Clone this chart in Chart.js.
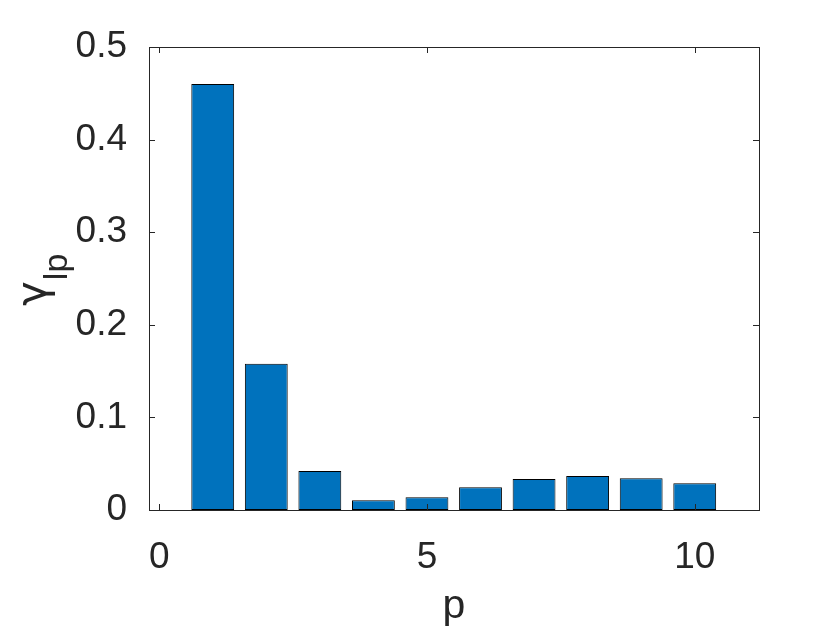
<!DOCTYPE html>
<html>
<head>
<meta charset="utf-8">
<script src="https://cdn.jsdelivr.net/npm/chart.js@4/dist/chart.umd.min.js"></script>
<style>
  html, body { margin: 0; padding: 0; background: #fff; }
  #wrap { width: 840px; height: 630px; }
</style>
</head>
<body>
<div id="wrap"><canvas id="myChart" width="840" height="630"></canvas></div>
<script>
// data
var pValues = [1, 2, 3, 4, 5, 6, 7, 8, 9, 10]
var gammaValues = [0.46, 0.158, 0.042, 0.0105, 0.0137, 0.0245, 0.0335, 0.0367, 0.0342, 0.029]
var xTicks = [0, 5, 10]
var yTicks = [0, 0.1, 0.2, 0.3, 0.4, 0.5]
var yTickLabels = ["0", "0.1", "0.2", "0.3", "0.4", "0.5"]

var axisColor = "#262626"
var barColor = "#0072BD"
var fontFamily = "'Liberation Sans', Arial, Helvetica, sans-serif"

var points = pValues.map(function(p, i){ return {x: p, y: gammaValues[i]} })

// box, inward ticks (matlab style) and axis labels
var matlabAxes = {
  id: "matlabAxes",
  afterDraw: function(chart){
    var ctx = chart.ctx
    var a = chart.chartArea
    var xs = chart.scales.x, ys = chart.scales.y
    var tl = 6
    ctx.save()
    ctx.strokeStyle = axisColor
    ctx.lineWidth = 1
    ctx.strokeRect(Math.round(a.left) + 0.5, Math.round(a.top) + 0.5,
                   Math.round(a.right - a.left), Math.round(a.bottom - a.top))
    ctx.beginPath()
    xTicks.forEach(function(v){
      var px = Math.round(xs.getPixelForValue(v)) + 0.5
      ctx.moveTo(px, a.bottom); ctx.lineTo(px, a.bottom - tl)
      ctx.moveTo(px, a.top); ctx.lineTo(px, a.top + tl)
    })
    yTicks.forEach(function(v){
      var py = Math.round(ys.getPixelForValue(v)) + 0.5
      ctx.moveTo(a.left, py); ctx.lineTo(a.left + tl, py)
      ctx.moveTo(a.right, py); ctx.lineTo(a.right - tl, py)
    })
    ctx.stroke()

    ctx.fillStyle = axisColor
    // x label
    ctx.font = "41px " + fontFamily
    ctx.textAlign = "center"
    ctx.textBaseline = "alphabetic"
    ctx.fillText("p", (a.left + a.right) / 2, 618)

    // y label: gamma with subscript lp, rotated
    ctx.translate(46, 306)
    ctx.rotate(-Math.PI / 2)
    ctx.textAlign = "left"
    ctx.font = "42px 'DejaVu Sans', " + fontFamily
    ctx.fillText("γ", 0, 0)
    var w = ctx.measureText("γ").width
    ctx.font = "34px " + fontFamily
    ctx.fillText("lp", w + 1, 21)
    ctx.restore()
  }
}

var myChart = document.getElementById("myChart").getContext("2d")

var chart = new Chart(myChart, {
  type: "bar",
  data: {
    datasets: [
      {
        label: "gamma",
        data: points,
        backgroundColor: barColor,
        borderColor: "#000000",
        borderWidth: 1,
        borderSkipped: false,
        barPercentage: 0.8,
        categoryPercentage: 1.0
      }
    ]
  },
  options: {
    responsive: false,
    animation: false,
    layout: { padding: { left: 0, top: 47, right: 81, bottom: 0 } },
    plugins: {
      legend: { display: false },
      tooltip: { enabled: false }
    },
    scales: {
      x: {
        type: "linear",
        offset: false,
        min: -0.19,
        max: 11.2,
        grid: { display: false },
        border: { display: false },
        afterBuildTicks: function(scale){
          scale.ticks = xTicks.map(function(v){ return {value: v} })
        },
        afterFit: function(scale){ scale.height = 120 },
        ticks: {
          color: axisColor,
          padding: 18,
          maxRotation: 0,
          font: { family: fontFamily, size: 37 },
          callback: function(v){ return String(v) }
        }
      },
      y: {
        min: 0,
        max: 0.5,
        grid: { display: false },
        border: { display: false },
        afterBuildTicks: function(scale){
          scale.ticks = yTicks.map(function(v){ return {value: v} })
        },
        afterFit: function(scale){ scale.width = 149 },
        ticks: {
          color: axisColor,
          padding: 14,
          font: { family: fontFamily, size: 37 },
          callback: function(v, i){ return yTickLabels[i] }
        }
      }
    }
  },
  plugins: [matlabAxes]
})
</script>
</body>
</html>
